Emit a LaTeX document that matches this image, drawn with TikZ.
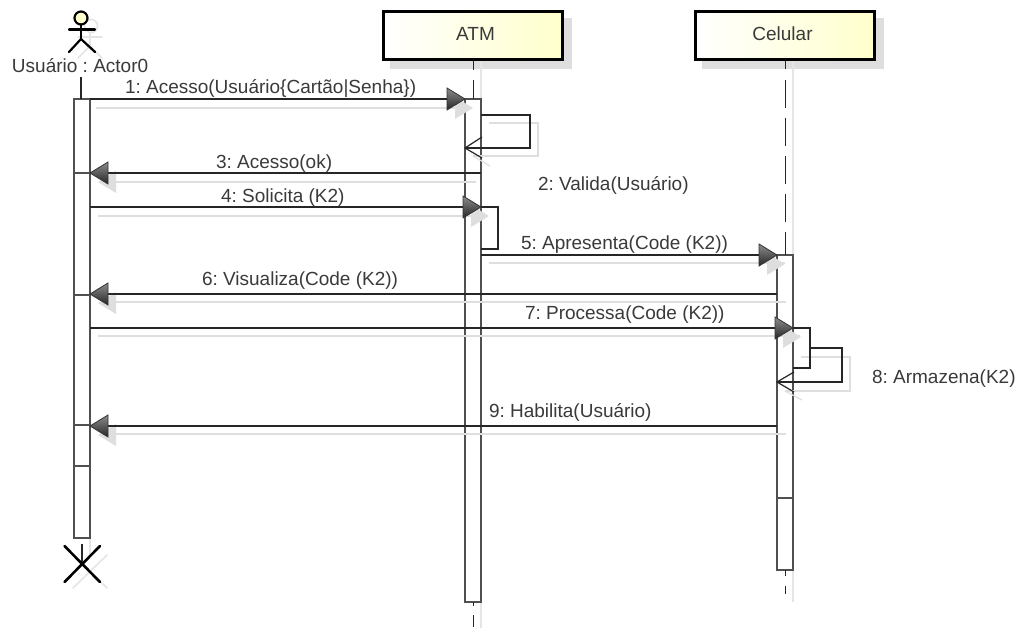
\documentclass[tikz,border=0pt]{standalone}
\usepackage{fontspec}
\setmainfont{Liberation Sans}
\usetikzlibrary{calc}
\definecolor{shad}{HTML}{DEDEDE}
\definecolor{barline}{HTML}{505050}
\definecolor{txt}{HTML}{3A3A3A}
\definecolor{boxy}{HTML}{FFFFCC}
\frenchspacing
\tikzset{
  x=1pt,y=-1pt,
  every node/.style={inner sep=0pt,outer sep=0pt},
  lbl/.style={font=\fontsize{19}{22}\selectfont,text=txt,anchor=west},
  hdr/.style={draw=black,line width=3pt,left color=white,right color=boxy,minimum width=179pt,minimum height=48pt,font=\fontsize{19}{22}\selectfont,text=txt},
  hdrshadow/.style={fill=shad,minimum width=182pt,minimum height=51pt},
  actbar/.style={draw=barline,line width=1.2pt,fill=white,minimum width=16pt},
  msg/.style={draw=black!85,line width=1.2pt},
  msgshadow/.style={draw=shad,line width=1.2pt},
  selfmsg/.style={draw=black!85,line width=1.2pt},
  life/.style={draw=black!85,line width=1.3pt},
  lifeshadow/.style={draw=shad!80!white,line width=1.4pt},
  acto/.style={draw=black,line width=2.2pt,line cap=round},
  actoshadow/.style={draw=shad!80!white,line width=1.6pt,line cap=round},
  thin sep/.style={draw=barline,line width=1.3pt},
}
% arrowhead: tip x, y, direction (+1 right / -1 left)
\newcommand{\solidtip}[3]{%
  \path[draw=black!80,line width=.8pt,top color=black!45,bottom color=black!85]
    (#1,#2) -- ({#1-18*(#3)},{#2-11}) -- ({#1-18*(#3)},{#2+11}) -- cycle;}
\newcommand{\shadowtip}[3]{%
  \path[fill=shad] ({#1+8},{#2+9}) -- ({#1+8-18*(#3)},{#2+9-11}) -- ({#1+8-18*(#3)},{#2+9+11}) -- cycle;}
\begin{document}
\begin{tikzpicture}
\useasboundingbox (0,0) rectangle (1019,631);
\fill[white] (0,0) rectangle (1019,631);

% row coordinates
\coordinate (r1) at (0,99);
\coordinate (r3) at (0,173);
\coordinate (r4) at (0,207);
\coordinate (r5) at (0,255);
\coordinate (r6) at (0,294);
\coordinate (r7) at (0,328);
\coordinate (r9) at (0,426);

% free ends of lifelines
\coordinate (atmEnd1) at (473.5,99);
\coordinate (celEnd1) at (785.5,255);
\coordinate (atmS) at (481,628);
\coordinate (celS) at (793,602);
\coordinate (atmSt) at (481,61);
\coordinate (celSt) at (793,61);

% shadows
\node[hdrshadow,anchor=north west] at (390,18) {};
\node[hdrshadow,anchor=north west] at (702,18) {};
\draw[lifeshadow] (atmSt) -- (atmS);
\draw[lifeshadow] (celSt) -- (celS);
\draw[lifeshadow] (90,538) -- (90,555);

% actor shadow
\begin{scope}[actoshadow]
\draw (91,26) circle (6.5);
\draw (78,37) -- (102,37);
\draw (90,33) -- (90,46);
\draw (90,46) -- (78,58);
\draw (90,46) -- (102,58);
\draw (73,588) -- (107,555);
\draw (73,555) -- (107,588);
\end{scope}

% lifelines
\node[hdr] (atm) at (473,35.5) {\hspace{5pt}\raisebox{3pt}{ATM}};
\node[hdr] (cel) at (784.5,35.5) {\hspace{-4pt}\raisebox{3pt}{Celular}};
\node[actbar,minimum height=439pt] (barU) at (82,318.5) {};
\node[actbar,minimum height=503pt] (barA) at (473,350.5) {};
\node[actbar,minimum height=315pt] (barC) at (785,412.5) {};

\coordinate (uTop) at (81,77);
\coordinate (uBar) at (81,99);
\draw[life] (uTop) -- (uBar);

\draw[life] (473.5,61) -- (473.5,70);
\draw[life] (473.5,80) -- (atmEnd1);
\draw[life] (473.5,602) -- (473.5,606);
\draw[life] (473.5,615) -- (473.5,627);
\draw[life] (785.5,61) -- (785.5,69);
\draw[life] (785.5,80) -- (785.5,108);
\draw[life] (785.5,118) -- (785.5,146);
\draw[life] (785.5,156) -- (785.5,184);
\draw[life] (785.5,194) -- (785.5,222);
\draw[life] (785.5,232) -- (celEnd1);
\draw[life] (785.5,570) -- (785.5,576);
\draw[life] (785.5,586) -- (785.5,594);

% bar separators
\draw[thin sep] (barU.west |- r3) -- (barU.east |- r3);
\draw[thin sep] (barU.west |- 0,295) -- (barU.east |- 0,295);
\draw[thin sep] (barU.west |- 0,425) -- (barU.east |- 0,425);
\draw[thin sep] (barU.west |- 0,466) -- (barU.east |- 0,466);
\draw[thin sep] (barC.west |- 0,498) -- (barC.east |- 0,498);

% message shadows
\draw[msgshadow] (96,108) -- (470,108);
\shadowtip{465}{99}{1}
\draw[msgshadow] (489,123) -- (538,123) -- (538,156) -- (473,156);
\draw[msgshadow] (473,156) -- (490,166);
\draw[msgshadow] (108,182) -- (476,182);
\shadowtip{90}{173}{-1}
\draw[msgshadow] (98,216) -- (480,216);
\shadowtip{481}{207}{1}
\draw[msgshadow] (489,263) -- (785,263);
\shadowtip{777}{255}{1}
\draw[msgshadow] (108,302) -- (786,302);
\shadowtip{90}{294}{-1}
\draw[msgshadow] (98,336) -- (800,336);
\shadowtip{793}{328}{1}
\draw[msgshadow] (801,357) -- (850,357) -- (850,391) -- (785,391);
\draw[msgshadow] (785,391) -- (802,400);
\draw[msgshadow] (108,434) -- (786,434);
\shadowtip{90}{426}{-1}

% messages
\draw[msg] (barU.east |- r1) -- (barA.west |- r1);
\solidtip{465}{99}{1}
\node[lbl] (m1) at (125,89) {1: Acesso(Usuário\{Cartão|Senha\})};

\draw[selfmsg] (barA.east |- 0,115) -- (530,115) -- (530,148) -- (barA.west |- 0,148);
\draw[selfmsg] (482,137) -- (barA.west |- 0,148) -- (482,158);
\node[lbl] (m2) at (538,185) {2: Valida(Usuário)};

\draw[msg] (barA.east |- r3) -- (barU.east |- r3);
\solidtip{90}{173}{-1}
\node[lbl] (m3) at (216,164) {3: Acesso(ok)};

\draw[msg] (barU.east |- r4) -- (barA.east |- r4);
\solidtip{481}{207}{1}
\node[lbl] (m4) at (221,198) {4: Solicita (K2)};
\draw[selfmsg] (barA.east |- r4) -- (498,207) -- (498,249) -- (barA.east |- 0,249);

\draw[msg] (barA.east |- r5) -- (barC.west |- r5);
\solidtip{777}{255}{1}
\node[lbl] (m5) at (521,245) {5: Apresenta(Code (K2))};

\draw[msg] (barC.west |- r6) -- (barU.east |- r6);
\solidtip{90}{294}{-1}
\node[lbl] (m6) at (202,281) {6: Visualiza(Code (K2))};

\draw[msg] (barU.east |- r7) -- (barC.east |- r7);
\solidtip{793}{328}{1}
\node[lbl] (m7) at (525,315) {7: Processa(Code (K2))};
\draw[selfmsg] (barC.east |- r7) -- (810,328) -- (810,368) -- (barC.east |- 0,368);

\draw[selfmsg] (810,348) -- (842,348) -- (842,382) -- (barC.west |- 0,382);
\draw[selfmsg] (794,372) -- (barC.west |- 0,382) -- (794,392);
\node[lbl] (m8) at (872,379) {8: Armazena(K2)};

\draw[msg] (barC.west |- r9) -- (barU.east |- r9);
\solidtip{90}{426}{-1}
\node[lbl] (m9) at (489,412) {9: Habilita(Usuário)};

% actor
\node[circle,draw=black,line width=2.2pt,fill=boxy,minimum size=13pt] (head) at (81,18) {};
\coordinate (hip) at (81,39);
\draw[acto] (head.south) -- (hip);
\draw[acto] (69,29.5) -- (95,29.5);
\draw[acto] (hip) -- (69,52);
\draw[acto] (hip) -- (95,52);
\node[lbl] (actor) at (12,66) {Usuário : Actor0};

% destruction
\coordinate (xc) at (82,563);
\draw[life] (barU.south |- 0,544) -- (barU.south |- xc);
\draw[acto,line width=2.6pt] (64.5,546) -- (100,582);
\draw[acto,line width=2.6pt] (100,546) -- (64.5,582);
\end{tikzpicture}
\end{document}
